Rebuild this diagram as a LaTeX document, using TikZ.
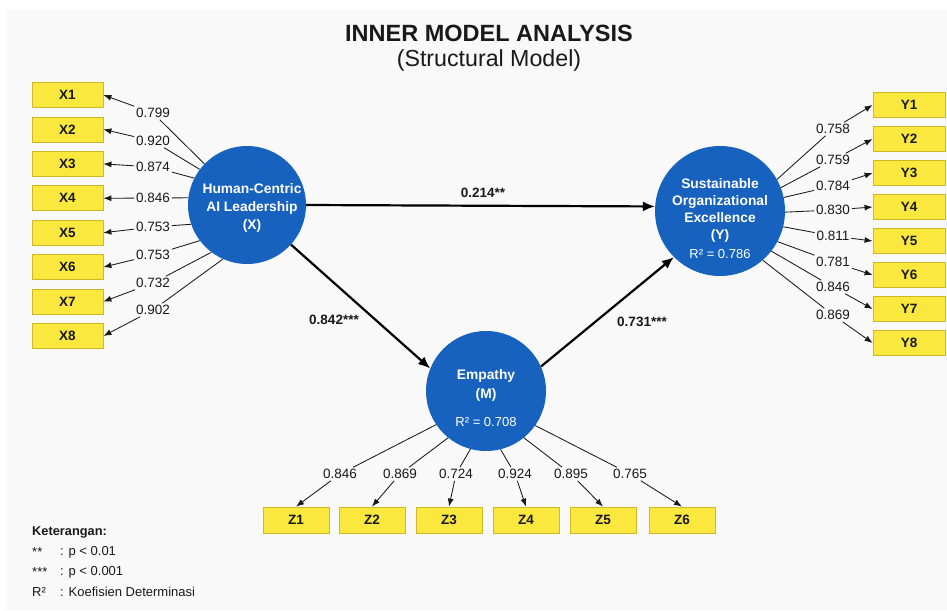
\documentclass[tikz,border=0pt]{standalone}
\usepackage{fontspec}
\setmainfont{Liberation Sans}
\usetikzlibrary{arrows.meta}
\definecolor{bg}{RGB}{249,249,249}
\definecolor{cblue}{RGB}{22,98,190}
\definecolor{byel}{RGB}{250,232,62}
\definecolor{bedge}{RGB}{205,185,40}
\definecolor{ink}{RGB}{25,25,25}
\begin{document}
\begin{tikzpicture}[x=1pt,y=-1pt,
  latent/.style={circle, fill=cblue, draw=none, inner sep=0pt},
  ctext/.style={text=white, align=center, inner sep=0pt},
  ind/.style={rectangle, fill=byel, draw=bedge, line width=0.8pt, minimum height=25pt, inner sep=0pt, font=\bfseries\fontsize{13.5}{15}\selectfont, text=ink},
  indx/.style={ind, minimum width=71pt},
  indz/.style={ind, minimum width=66pt, minimum height=26pt},
  lab/.style={inner sep=1.8pt, font=\fontsize{13.5}{15}\selectfont, text=ink},
  load/.style={draw=ink, line width=0.85pt, -{Latex[length=8pt,width=6pt]}},
  spath/.style={draw=black, line width=2.2pt, -{Latex[length=12pt,width=10pt]}},
  plab/.style={font=\bfseries\fontsize{13.5}{15}\selectfont, text=ink},
  legend/.style={anchor=west, inner sep=0pt, font=\fontsize{13}{15}\selectfont, text=ink},
]
\useasboundingbox (0,0) rectangle (947,610);
\fill[white] (0,0) rectangle (947,610);
\fill[bg] (7,9) rectangle (947,610);

% titles
\node[font=\bfseries\fontsize{23.5}{26}\selectfont, text=ink] (title) at (489,33) {INNER MODEL ANALYSIS};
\node[font=\fontsize{23.2}{26}\selectfont, text=ink] (subtitle) at (489,60) {(Structural Model)};

% latent variables
\node[latent, minimum size=118pt] (X) at (247,205) {};
\node[latent, minimum size=130pt] (Y) at (720,211) {};
\node[latent, minimum size=120pt] (M) at (486,391) {};

\node[ctext, font=\bfseries\fontsize{13.8}{18}\selectfont] (Xt) at (252,208) {Human-Centric\\AI Leadership\\(X)};
\node[ctext, font=\bfseries\fontsize{13.8}{17}\selectfont] (Yt) at (720,219) {Sustainable\\Organizational\\Excellence\\(Y)\\[2pt]{\mdseries\fontsize{13}{17}\selectfont R² = 0.786}};
\node[ctext, font=\bfseries\fontsize{13.8}{19.5}\selectfont] (Mt) at (486,398) {Empathy\\(M)\\[8pt]{\mdseries\fontsize{13}{17}\selectfont R² = 0.708}};

% X indicators
\foreach \i/\yy in {1/95,2/129.4,3/163.9,4/198.3,5/232.7,6/267.1,7/301.6,8/336}
  \node[indx] (x\i) at (67.5,\yy) {X\i};
% Y indicators
\foreach \i/\yy in {1/105,2/139,3/173,4/207,5/241,6/275,7/309,8/343}
  \node[indx, minimum width=72pt] (y\i) at (909,\yy) {Y\i};
% Z indicators
\foreach \i/\xx in {1/296,2/372,3/449,4/526,5/603,6/682}
  \node[indz] (z\i) at (\xx,520) {Z\i};

% X loadings
\foreach \i/\ang/\yy/\v in {1/136/113/0.799, 2/143.5/141/0.920, 3/153/167/0.874, 4/173/198/0.846, 5/199/227/0.753, 6/217/255/0.753, 7/233/283/0.732, 8/246/310/0.902}{
  \node[lab] (lx\i) at (153,\yy) {\v};
  \draw[load] (X.\ang) -- (lx\i) -- (x\i.east);
}
% Y loadings
\foreach \i/\ang/\yy/\v in {1/29.6/129/0.758, 2/21/160/0.759, 3/12/186/0.784, 4/-1/210/0.830, 5/-14/236/0.811, 6/-28/262/0.781, 7/-38/287/0.846, 8/-49/315/0.869}{
  \node[lab] (ly\i) at (833,\yy) {\v};
  \draw[load] (Y.\ang) -- (ly\i) -- (y\i.west);
}
% Z loadings
\foreach \i/\ang/\xx/\v in {1/214.5/340/0.846, 2/231/400/0.869, 3/255.5/456/0.724, 4/284.5/515/0.924, 5/309/571/0.895, 6/325.5/630/0.765}{
  \node[lab] (lz\i) at (\xx,474) {\v};
  \draw[load] (M.\ang) -- (lz\i) -- (z\i.north);
}

% structural paths
\draw[spath] (X.east) -- (Y.176);
\draw[spath] (X.-42) -- (M.158);
\draw[spath] (M.24) -- (Y.225);
\node[plab] (pxy) at (483,193) {0.214**};
\node[plab] (pxm) at (334,320) {0.842***};
\node[plab] (pmy) at (642,322) {0.731***};

% legend
\node[legend, font=\bfseries\fontsize{12.8}{14}\selectfont] (k0) at (32,532) {Keterangan:};
\node[legend] (k1) at (32,552) {**};
\node[legend] (k1b) at (60,552) {: p < 0.01};
\node[legend] (k2) at (32,572) {***};
\node[legend] (k2b) at (60,572) {: p < 0.001};
\node[legend] (k3) at (32,592) {R²};
\node[legend] (k3b) at (60,592) {: Koefisien Determinasi};
\end{tikzpicture}
\end{document}
